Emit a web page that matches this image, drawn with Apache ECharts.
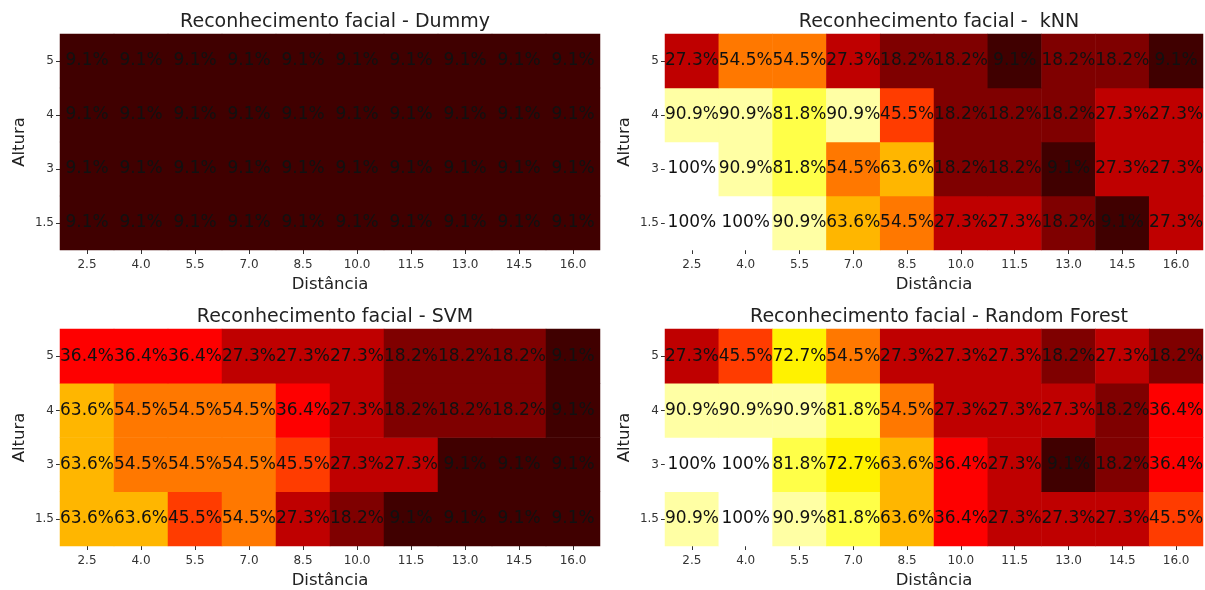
<!DOCTYPE html>
<html>
<head>
<meta charset="utf-8">
<script src="https://cdn.jsdelivr.net/npm/echarts@6/dist/echarts.min.js"></script>
<style>html,body{margin:0;padding:0;background:#fff}#c{width:1205px;height:590px}</style>
</head>
<body>
<div id="c"></div>
<script>
var distancias = ['2.5','4.0','5.5','7.0','8.5','10.0','11.5','13.0','14.5','16.0'];
var alturas = ['1.5','3','4','5'];
var titulos = ['Reconhecimento facial - Dummy','Reconhecimento facial -  kNN','Reconhecimento facial - SVM','Reconhecimento facial - Random Forest'];

// rows listed bottom (1.5) to top (5)
var dummy = [
  [9.1,9.1,9.1,9.1,9.1,9.1,9.1,9.1,9.1,9.1],
  [9.1,9.1,9.1,9.1,9.1,9.1,9.1,9.1,9.1,9.1],
  [9.1,9.1,9.1,9.1,9.1,9.1,9.1,9.1,9.1,9.1],
  [9.1,9.1,9.1,9.1,9.1,9.1,9.1,9.1,9.1,9.1]
];
var knn = [
  [100,100,90.9,63.6,54.5,27.3,27.3,18.2,9.1,27.3],
  [100,90.9,81.8,54.5,63.6,18.2,18.2,9.1,27.3,27.3],
  [90.9,90.9,81.8,90.9,45.5,18.2,18.2,18.2,27.3,27.3],
  [27.3,54.5,54.5,27.3,18.2,18.2,9.1,18.2,18.2,9.1]
];
var svm = [
  [63.6,63.6,45.5,54.5,27.3,18.2,9.1,9.1,9.1,9.1],
  [63.6,54.5,54.5,54.5,45.5,27.3,27.3,9.1,9.1,9.1],
  [63.6,54.5,54.5,54.5,36.4,27.3,18.2,18.2,18.2,9.1],
  [36.4,36.4,36.4,27.3,27.3,27.3,18.2,18.2,18.2,9.1]
];
var randomForest = [
  [90.9,100,90.9,81.8,63.6,36.4,27.3,27.3,27.3,45.5],
  [100,100,81.8,72.7,63.6,36.4,27.3,9.1,18.2,36.4],
  [90.9,90.9,90.9,81.8,54.5,27.3,27.3,27.3,18.2,36.4],
  [27.3,45.5,72.7,54.5,27.3,27.3,27.3,18.2,27.3,18.2]
];
var matrizes = [dummy, knn, svm, randomForest];

// matplotlib "hot" colormap
function hot(t){
  var r = Math.min(1, t/0.365079);
  var g = Math.max(0, Math.min(1, (t-0.365079)/(0.746032-0.365079)));
  var b = Math.max(0, Math.min(1, (t-0.746032)/(1-0.746032)));
  function h(v){var s=Math.round(v*255).toString(16);return s.length<2?'0'+s:s;}
  return '#'+h(r)+h(g)+h(b);
}
var hotColors = [];
for (var i=0;i<=200;i++) hotColors.push(hot(i/200));

var font = 'DejaVu Sans';
var grids = [
  {left:60, top:34, width:540, height:216, outerBoundsMode:'none', containLabel:false},
  {left:665, top:34, width:538, height:216, outerBoundsMode:'none', containLabel:false},
  {left:60, top:329, width:540, height:217, outerBoundsMode:'none', containLabel:false},
  {left:665, top:329, width:538, height:217, outerBoundsMode:'none', containLabel:false}
];
var option = {
  animation:false,
  backgroundColor:'#fff',
  textStyle:{fontFamily:font},
  title: grids.map(function(g,k){
    return {text:titulos[k], left:g.left+g.width/2, top:g.top-26, textAlign:'center',
      textStyle:{fontFamily:font,fontSize:19,fontWeight:'normal',color:'#222'}};
  }),
  grid: grids,
  visualMap:{show:false, min:0, max:100, dimension:2, seriesIndex:[0,1,2,3], inRange:{color:hotColors}},
  xAxis: grids.map(function(g,k){
    return {type:'category', gridIndex:k, data:distancias,
      name:'Distância', nameLocation:'middle', nameGap:26,
      nameTextStyle:{fontFamily:font,fontSize:16.5,color:'#222'},
      axisLine:{show:false}, splitLine:{show:false},
      axisTick:{show:true, alignWithLabel:true, length:4, lineStyle:{color:'#333'}},
      axisLabel:{fontFamily:font,fontSize:12,color:'#333',margin:9}};
  }),
  yAxis: grids.map(function(g,k){
    return {type:'category', gridIndex:k, data:alturas,
      name:'Altura', nameLocation:'middle', nameGap:32, nameRotate:90,
      nameTextStyle:{fontFamily:font,fontSize:16.5,color:'#222'},
      axisLine:{show:false}, splitLine:{show:false},
      axisTick:{show:true, alignWithLabel:true, length:4, lineStyle:{color:'#333'}},
      axisLabel:{fontFamily:font,fontSize:12,color:'#333',margin:6}};
  }),
  series: matrizes.map(function(m,k){
    var d=[];
    for (var r=0;r<m.length;r++) for (var c=0;c<m[r].length;c++) d.push([c,r,m[r][c]]);
    return {type:'heatmap', xAxisIndex:k, yAxisIndex:k, data:d,
      label:{show:true, fontFamily:font, fontSize:17, color:'#111',
        formatter:function(p){var v=p.value[2];return (v===100?'100':v.toFixed(1))+'%';}},
      itemStyle:{borderWidth:0}};
  })
};
var chart = echarts.init(document.getElementById('c'));
chart.setOption(option);
</script>
</body>
</html>
